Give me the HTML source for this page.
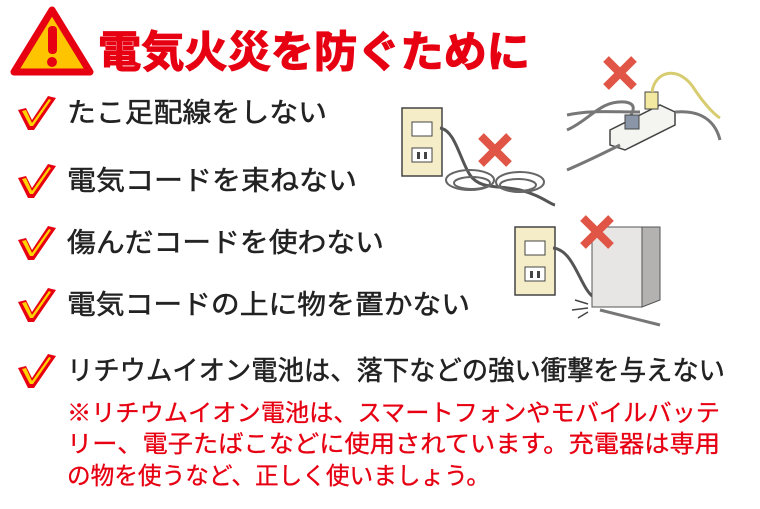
<!DOCTYPE html>
<html><head><meta charset="utf-8"><style>
body{margin:0;background:#fff;width:760px;height:509px;overflow:hidden}
svg{display:block}
text{font-family:"Liberation Sans","Noto Sans CJK JP",sans-serif}
</style></head><body>
<svg width="760" height="509" viewBox="0 0 760 509" xmlns="http://www.w3.org/2000/svg">
<defs>
<g id="chk"><path d="M0 10 L8 8 L14 20 L30 -4 L38 -2 L16 30 L10 30 Z" fill="#e60012"/><path d="M4 11 L8 10 L14 23 L31 -1 L33 0 L15 26 L12 26 Z" fill="#ffd200"/></g>
<g id="x"><path d="M-14 -14 L14 14 M14 -14 L-14 14" stroke="#e05545" stroke-width="8"/></g>
<g id="outlet"><rect x="0" y="0" width="40" height="68" fill="#f5ecc8" stroke="#444" stroke-width="1.5"/><rect x="10" y="14" width="20" height="14" fill="#fff" stroke="#444"/><rect x="10" y="40" width="20" height="14" fill="#fff" stroke="#444"/><rect x="15" y="44" width="3" height="7" fill="#444"/><rect x="22" y="44" width="3" height="7" fill="#444"/></g>
</defs>
<path d="M52 10 L90 72 L14 72 Z" fill="#ffc400" stroke="#e60012" stroke-width="7" stroke-linejoin="round"/>
<rect x="48" y="26" width="9" height="28" rx="4" fill="#e60012"/>
<circle cx="52" cy="62" r="5" fill="#e60012"/>
<text x="98" y="67" font-size="43" font-weight="bold" fill="#e60012" stroke="#e60012" stroke-width="1.2" textLength="432" lengthAdjust="spacingAndGlyphs">電気火災を防ぐために</text>
<g fill="#222" stroke="#222" stroke-width="0.5">
<text x="67" y="122" font-size="27" textLength="260" lengthAdjust="spacingAndGlyphs">たこ足配線をしない</text>
<text x="67" y="190" font-size="27" textLength="290" lengthAdjust="spacingAndGlyphs">電気コードを束ねない</text>
<text x="67" y="252" font-size="27" textLength="317" lengthAdjust="spacingAndGlyphs">傷んだコードを使わない</text>
<text x="67" y="314" font-size="27" textLength="403" lengthAdjust="spacingAndGlyphs">電気コードの上に物を置かない</text>
<text x="67" y="380" font-size="27" textLength="658" lengthAdjust="spacingAndGlyphs">リチウムイオン電池は、落下などの強い衝撃を与えない</text>
</g>
<use href="#chk" x="18" y="100"/>
<use href="#chk" x="18" y="168"/>
<use href="#chk" x="18" y="230"/>
<use href="#chk" x="18" y="292"/>
<use href="#chk" x="18" y="358"/>
<g fill="#e60012" stroke="#e60012" stroke-width="0.3">
<text x="67" y="421" font-size="24" textLength="653" lengthAdjust="spacingAndGlyphs">※リチウムイオン電池は、スマートフォンやモバイルバッテ</text>
<text x="67" y="452" font-size="24" textLength="653" lengthAdjust="spacingAndGlyphs">リー、電子たばこなどに使用されています。充電器は専用</text>
<text x="67" y="484" font-size="24" textLength="423" lengthAdjust="spacingAndGlyphs">の物を使うなど、正しく使いましょう。</text>
</g>
<use href="#outlet" x="402" y="108"/>
<path d="M440 128 C455 130 460 160 470 175 C480 190 500 185 520 190 C540 195 550 204 555 205" stroke="#555" stroke-width="3" fill="none"/>
<ellipse cx="470" cy="180" rx="24" ry="10" stroke="#666" stroke-width="2" fill="none"/>
<ellipse cx="520" cy="182" rx="24" ry="10" stroke="#666" stroke-width="2" fill="none"/>
<ellipse cx="472" cy="183" rx="18" ry="6" stroke="#666" stroke-width="2" fill="none"/>
<ellipse cx="518" cy="185" rx="18" ry="6" stroke="#666" stroke-width="2" fill="none"/>
<use href="#x" x="495" y="150"/>
<path d="M567 115 C590 110 610 112 640 112 M567 130 C590 120 600 100 625 102 C640 104 630 115 630 118" stroke="#777" stroke-width="3" fill="none"/>
<path d="M610 130 L660 105 L675 112 L675 125 L625 150 L610 145 Z" fill="#f4f4f0" stroke="#444" stroke-width="1.5"/>
<rect x="625" y="115" width="14" height="14" fill="#8a96a8" stroke="#444"/>
<rect x="645" y="92" width="13" height="17" fill="#f3e9a0" stroke="#444"/>
<path d="M652 92 C655 70 680 65 695 90 C705 105 715 115 720 118" stroke="#d8cc70" stroke-width="3" fill="none"/>
<path d="M675 112 C700 110 715 120 720 140 M567 170 C590 160 610 150 620 145" stroke="#777" stroke-width="3" fill="none"/>
<use href="#x" x="620" y="73"/>
<use href="#outlet" x="515" y="227"/>
<path d="M553 248 C575 250 580 290 595 298" stroke="#555" stroke-width="3" fill="none"/>
<path d="M600 310 L660 325" stroke="#777" stroke-width="3" fill="none"/>
<rect x="592" y="227" width="50" height="80" fill="#e8e6e4" stroke="#555"/>
<path d="M642 227 L660 227 L660 300 L642 307 Z" fill="#b4b2b0" stroke="#555"/>
<path d="M575 300 L588 304 M572 310 L588 308 M578 318 L588 312" stroke="#444" stroke-width="1.5"/>
<use href="#x" x="597" y="232"/>
</svg>
</body></html>
